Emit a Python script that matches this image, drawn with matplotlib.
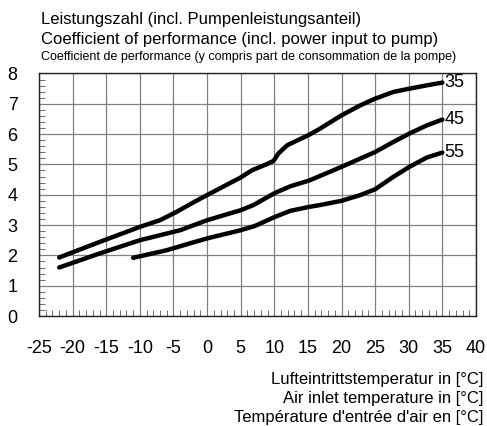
import matplotlib
matplotlib.use("Agg")
import matplotlib.pyplot as plt
from matplotlib.ticker import MultipleLocator

plt.rcParams['font.family'] = ['Liberation Sans', 'DejaVu Sans']
plt.rcParams['axes.unicode_minus'] = False

x35 = [-22, -15.9, -10.0, -7.0, -4.5, -2.5, 0.0, 5.0, 6.7, 8.9, 9.9, 10.6, 11.9, 15.2, 16.8,
       20.0, 22.8, 25.0, 27.7, 30.1, 32.7, 35.0]
y35 = [1.93, 2.45, 2.94, 3.16, 3.44, 3.69, 3.99, 4.57, 4.81, 5.01, 5.12, 5.36, 5.63, 5.98, 6.18,
       6.62, 6.95, 7.17, 7.39, 7.50, 7.61, 7.70]
x45 = [-22, -15.9, -10.0, -4.0, 0.0, 5.0, 6.9, 10.1, 12.4, 15.2, 16.8, 20.0, 25.0, 27.7, 30.1, 32.7, 35.0]
y45 = [1.60, 2.07, 2.50, 2.83, 3.16, 3.49, 3.66, 4.06, 4.28, 4.47, 4.62, 4.92, 5.41, 5.74, 6.02, 6.29, 6.48]
x55 = [-11, -6.0, -2.5, 0.0, 5.0, 7.1, 10.1, 12.4, 15.2, 16.8, 20.0, 22.8, 25.0, 27.7, 30.1, 32.7, 35.0]
y55 = [1.92, 2.17, 2.40, 2.56, 2.83, 2.97, 3.27, 3.47, 3.60, 3.66, 3.80, 3.99, 4.18, 4.59, 4.92, 5.23, 5.39]
series = [("35", x35, y35), ("45", x45, y45), ("55", x55, y55)]
xticks = list(range(-25, 41, 5))
yticks = list(range(0, 9))

fig = plt.figure(figsize=(4.87, 4.26), dpi=100)
ax = fig.add_axes([0.0801, 0.2582, 0.8973, 0.5693])
ax.set_xlim(-25, 40)
ax.set_ylim(0, 8)
ax.set_xticks(xticks)
ax.set_yticks(yticks)
ax.xaxis.set_minor_locator(MultipleLocator(1))
ax.yaxis.set_minor_locator(MultipleLocator(0.2))
ax.grid(True, which='major', color='#808080', linewidth=0.9)
ax.tick_params(which='both', direction='in', top=False, right=False)
ax.tick_params(which='major', length=0, labelsize=13)
ax.tick_params(axis='x', which='major', pad=17)
ax.tick_params(axis='y', which='major', pad=19)
ax.tick_params(which='minor', length=4, width=0.6, color='#555555')
for lab in ax.get_yticklabels():
    lab.set_horizontalalignment('center')
for s in ax.spines.values():
    s.set_linewidth(1.0)
    s.set_color('#222222')

for name, xs, ys in series:
    ax.plot(xs, ys, color='black', linewidth=3.2, solid_capstyle='round', solid_joinstyle='round')
    ax.text(xs[-1] + 0.3, ys[-1], name, fontsize=13, va='center', ha='left')

fig.text(0.084, 0.955, "Leistungszahl (incl. Pumpenleistungsanteil)", fontsize=12, va='center')
fig.text(0.084, 0.908, "Coefficient of performance (incl. power input to pump)", fontsize=12, va='center')
fig.text(0.084, 0.867, "Coefficient de performance (y compris part de consommation de la pompe)",
         fontsize=9, va='center')

fig.text(0.992, 0.108, "Lufteintrittstemperatur in [°C]", fontsize=12, ha='right', va='center')
fig.text(0.992, 0.064, "Air inlet temperature in [°C]", fontsize=12, ha='right', va='center')
fig.text(0.992, 0.021, "Température d'entrée d'air en [°C]", fontsize=12, ha='right', va='center')

fig.savefig("out.png", dpi=100)
